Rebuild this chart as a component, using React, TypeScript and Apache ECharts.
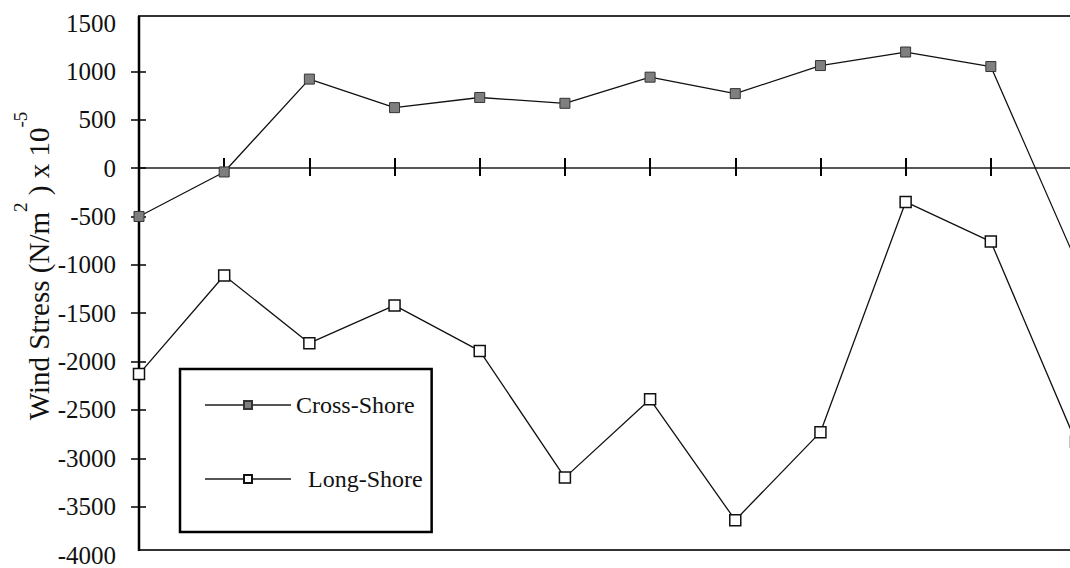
import React, { useEffect, useRef } from 'react';
import * as echarts from 'echarts';

const categories = ['1', '2', '3', '4', '5', '6', '7', '8', '9', '10', '11', '12'];
const crossShore = [-500, -40, 920, 625, 730, 670, 940, 770, 1060, 1200, 1050, -960];
const longShore = [-2130, -1110, -1810, -1420, -1890, -3200, -2390, -3640, -2730, -350, -760, -2830];
const yTicks = [1500, 1000, 500, 0, -500, -1000, -1500, -2000, -2500, -3000, -3500, -4000];
const seriesNames = ['Cross-Shore', 'Long-Shore'];

export default function App() {
  const ref = useRef<HTMLDivElement>(null);
  useEffect(() => {
    if (!ref.current) return;
    const chart = echarts.init(ref.current, null, { renderer: 'svg' });
    const font = 'Liberation Serif';
    const innerTicks = yTicks.slice(1, yTicks.length - 1);
    const xAxisBase = {
      type: 'category',
      data: categories,
      boundaryGap: false,
      axisLine: { show: true, onZero: true, lineStyle: { color: '#555', width: 2 } },
      axisLabel: { show: false },
      splitLine: { show: false },
    };
    const yAxisBase = {
      type: 'value',
      min: -4000,
      max: 1500,
      interval: 500,
      splitLine: { show: false },
    };
    const nb = '\u00a0';
    chart.setOption({
      animation: false,
      backgroundColor: '#fff',
      grid: { left: 139, top: 23, width: 937, height: 532 },
      xAxis: [
        {
          ...xAxisBase,
          position: 'bottom',
          axisTick: { show: true, interval: 0, inside: false, length: 8, lineStyle: { color: '#000', width: 2 } },
        },
        {
          ...xAxisBase,
          position: 'top',
          axisTick: { show: true, interval: 0, inside: false, length: 10, lineStyle: { color: '#000', width: 2 } },
        },
      ],
      yAxis: [
        {
          ...yAxisBase,
          position: 'left',
          axisLine: { show: false },
          axisTick: { show: true, inside: false, length: 8, customValues: innerTicks, lineStyle: { color: '#000', width: 1.5 } },
          axisLabel: {
            show: true,
            customValues: yTicks,
            formatter: (v: number) => String(v),
            margin: 23,
            fontFamily: font,
            fontSize: 25,
            color: '#111',
          },
        },
        {
          ...yAxisBase,
          position: 'left',
          axisLine: { show: false },
          axisTick: { show: true, inside: true, length: 7, customValues: innerTicks, lineStyle: { color: '#000', width: 1.5 } },
          axisLabel: { show: false },
        },
      ],
      legend: {
        orient: 'vertical',
        left: 180,
        top: 369,
        padding: [24, 9, 41, 24],
        itemGap: 50,
        itemWidth: 86,
        itemHeight: 10,
        borderColor: '#000',
        borderWidth: 2.5,
        backgroundColor: '#fff',
        data: seriesNames,
        formatter: (name: string) => (name === seriesNames[1] ? nb + nb + name : name),
        lineStyle: { width: 2, color: '#555' },
        textStyle: { fontFamily: font, fontSize: 24, color: '#111' },
        z: 10,
      },
      graphic: [
        {
          type: 'rect',
          z: 0,
          silent: true,
          shape: { x: 139, y: 16, width: 1100, height: 534 },
          style: { fill: 'none', stroke: '#333', lineWidth: 2 },
        },
        {
          type: 'line',
          z: 1,
          silent: true,
          shape: { x1: 139, y1: 16, x2: 139, y2: 551 },
          style: { stroke: '#000', lineWidth: 2.5 },
        },
        {
          type: 'text',
          x: 39,
          y: 266,
          rotation: Math.PI / 2,
          silent: true,
          style: {
            text: `{a|Wind Stress (N/m}{s|2}{a|${nb})${nb}x${nb}10}{s|-5}`,
            align: 'center',
            verticalAlign: 'middle',
            fill: '#111',
            rich: {
              a: { fontFamily: font, fontSize: 29, lineHeight: 56, fill: '#111' },
              s: { fontFamily: font, fontSize: 19, lineHeight: 19, verticalAlign: 'top', fill: '#111' },
            },
          },
        },
      ],
      series: [
        {
          name: seriesNames[0],
          type: 'line',
          data: crossShore,
          xAxisIndex: 0,
          yAxisIndex: 0,
          symbol: 'rect',
          symbolSize: 10,
          lineStyle: { color: '#111', width: 1.3 },
          itemStyle: { color: '#7f7f7f', borderColor: '#333', borderWidth: 1 },
          z: 3,
        },
        {
          name: seriesNames[1],
          type: 'line',
          data: longShore,
          xAxisIndex: 0,
          yAxisIndex: 0,
          symbol: 'rect',
          symbolSize: 11,
          lineStyle: { color: '#111', width: 1.3 },
          itemStyle: { color: '#fff', borderColor: '#111', borderWidth: 1.5 },
          z: 3,
        },
      ],
    });
    return () => chart.dispose();
  }, []);
  return (
    <div style={{ position: 'fixed', left: 0, top: 0, width: 1070, height: 568, overflow: 'hidden', background: '#fff' }}>
      <div ref={ref} style={{ width: 1200, height: 568 }} />
    </div>
  );
}
